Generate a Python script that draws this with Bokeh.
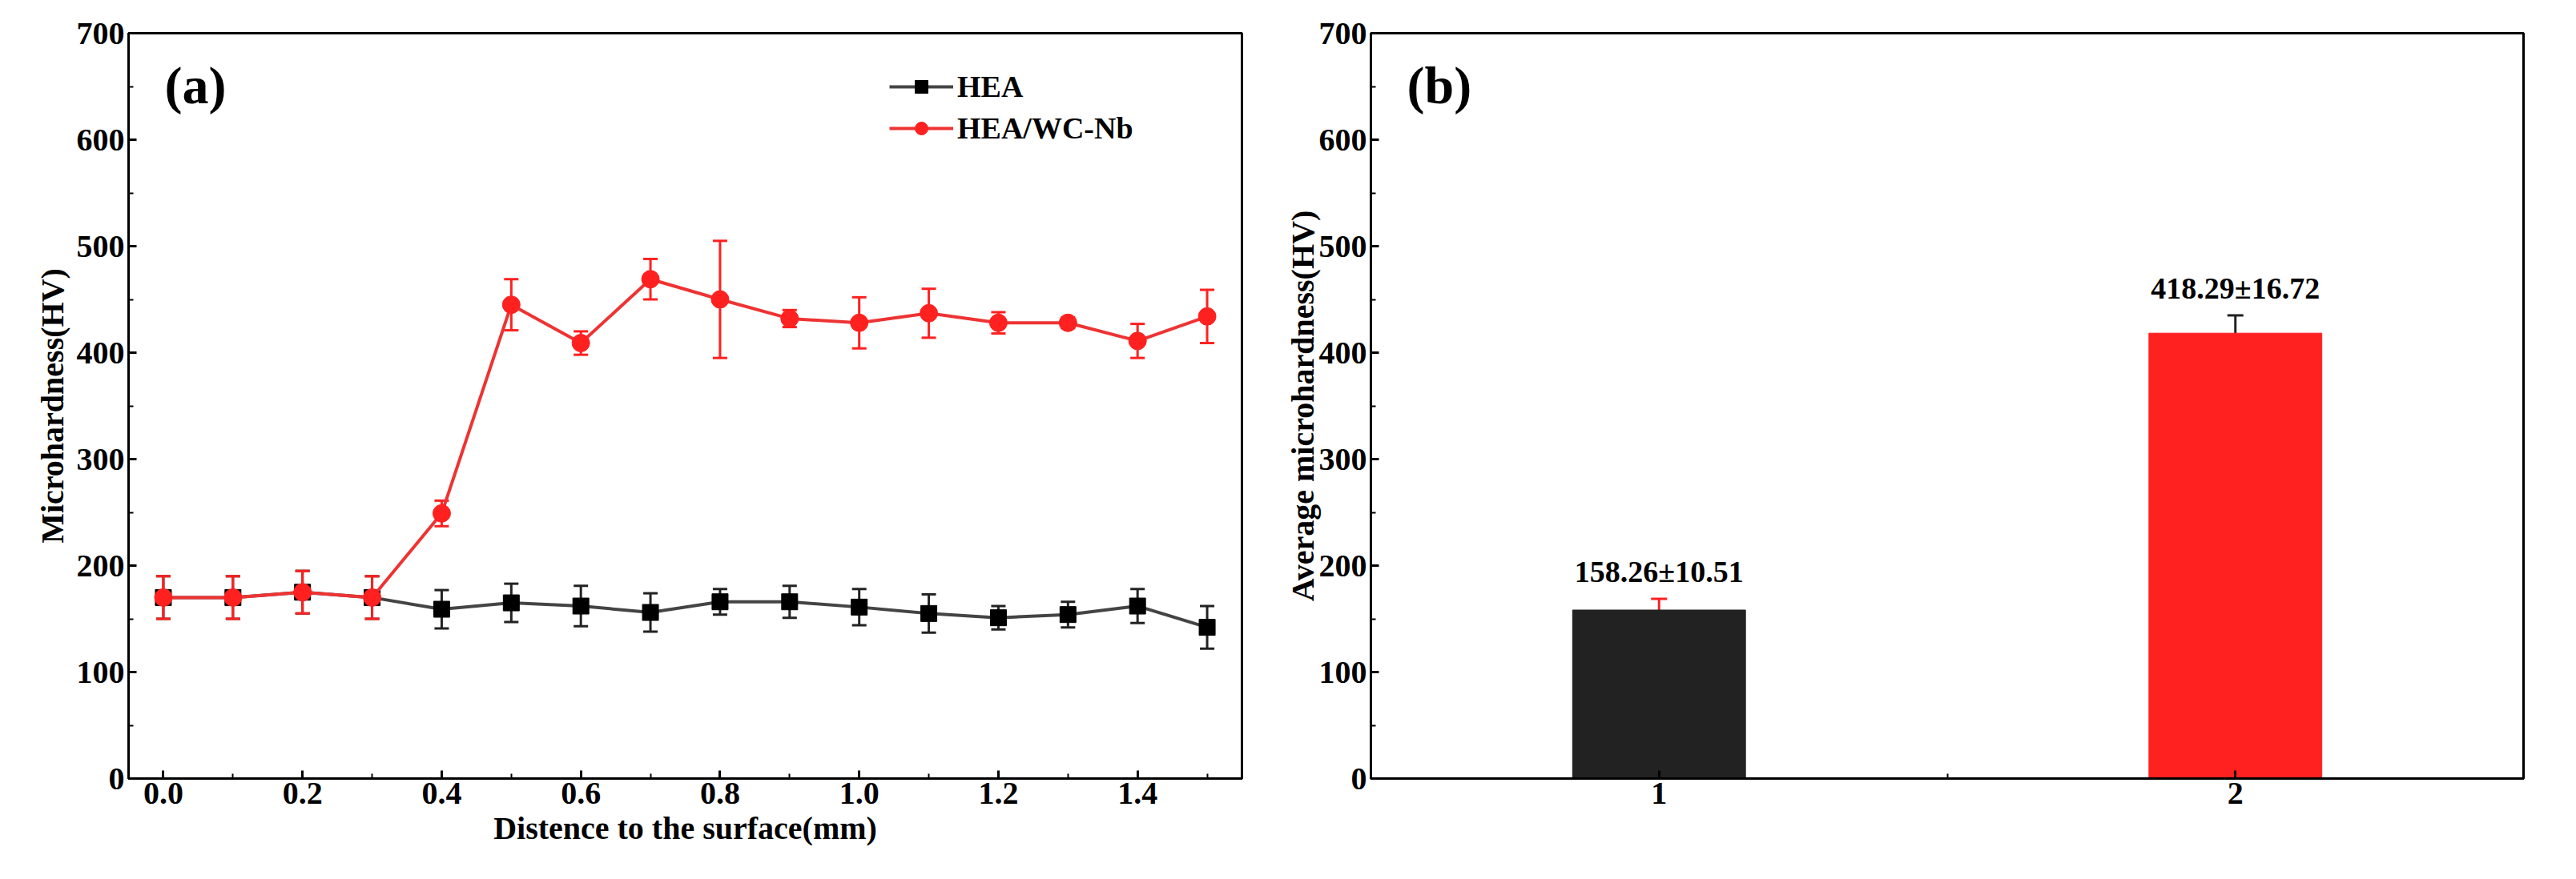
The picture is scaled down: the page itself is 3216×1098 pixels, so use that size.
from bokeh.plotting import figure
from bokeh.layouts import row
from bokeh.models import ColumnDataSource, Whisker, TeeHead, Legend, LegendItem, Label, FixedTicker, NumeralTickFormatter
from bokeh.embed import file_html
from bokeh.resources import INLINE

x = [0.0,0.1,0.2,0.3,0.4,0.5,0.6,0.7,0.8,0.9,1.0,1.1,1.2,1.3,1.4,1.5]
hea = [170,170,175,170,159,165,162,156,166,166,161,155,151,154,162,142]
hea_err = [20,20,20,20,18,18,19,18,12,15,17,18,11,12,16,20]
wc = [170,170,175,170,249,445,409,469,450,432,428,437,428,428,411,434]
wc_err = [20,20,20,20,12,24,11,19,55,8,24,23,10,5,16,25]

bar_x = [1, 2]
bar_v = [158.26, 418.29]
bar_e = [10.51, 16.72]
bar_labels = ["158.26±10.51", "418.29±16.72"]

FONT = "Liberation Serif"
RED = "#ff2020"
BLK = "#222222"

def style(p):
    p.outline_line_color = "black"
    p.outline_line_width = 3
    p.grid.visible = False
    for ax in (p.xaxis[0], p.yaxis[0]):
        ax.axis_line_width = 3
        ax.major_tick_line_width = 3
        ax.minor_tick_line_width = 2
        ax.major_tick_in = 10
        ax.major_tick_out = 0
        ax.minor_tick_in = 6
        ax.minor_tick_out = 0
        ax.major_label_text_font = FONT
        ax.major_label_text_font_style = "bold"
        ax.major_label_text_font_size = "40px"
        ax.major_label_text_color = "black"
        ax.axis_label_text_font = FONT
        ax.axis_label_text_font_style = "bold"
        ax.axis_label_text_font_size = "40px"
        ax.axis_label_text_color = "black"
    p.yaxis.ticker = FixedTicker(ticks=[0,100,200,300,400,500,600,700], minor_ticks=[50,150,250,350,450,550,650])

def err(p, xs, ys, es, color, size=18):
    lo = [y - e for y, e in zip(ys, es)]
    hi = [y + e for y, e in zip(ys, es)]
    src = ColumnDataSource(dict(x=xs, lo=lo, hi=hi))
    w = Whisker(source=src, base="x", lower="lo", upper="hi", line_color=color, line_width=3,
                upper_head=TeeHead(size=size, line_color=color, line_width=3),
                lower_head=TeeHead(size=size, line_color=color, line_width=3))
    p.add_layout(w)

p1 = figure(width=1600, height=1082, x_range=(-0.05, 1.55), y_range=(0, 700),
            output_backend="svg", toolbar_location=None,
            min_border_left=160, min_border_right=50, min_border_top=41, min_border_bottom=104)
style(p1)
p1.xaxis.ticker = FixedTicker(ticks=[0,0.2,0.4,0.6,0.8,1.0,1.2,1.4], minor_ticks=[0.1,0.3,0.5,0.7,0.9,1.1,1.3,1.5])
p1.xaxis.formatter = NumeralTickFormatter(format="0.0")
p1.xaxis.axis_label = "Distence to the surface(mm)"
p1.yaxis.axis_label = "Microhardness(HV)"

l1 = p1.line(x, hea, line_color="#444444", line_width=4)
err(p1, x, hea, hea_err, BLK)
s1 = p1.scatter(x, hea, marker="square", size=20, color="black")
l2 = p1.line(x, wc, line_color="#ee3333", line_width=4)
err(p1, x, wc, wc_err, RED)
s2 = p1.scatter(x, wc, marker="circle", size=22, color=RED)

leg = Legend(items=[LegendItem(label="HEA", renderers=[l1, s1]),
                    LegendItem(label="HEA/WC-Nb", renderers=[l2, s2])],
             location=(950, 790), border_line_color=None, background_fill_alpha=0,
             label_text_font=FONT, label_text_font_style="bold", label_text_font_size="38px",
             label_text_color="black", glyph_width=80, glyph_height=40, spacing=8)
p1.add_layout(leg)
p1.add_layout(Label(x=45, y=830, x_units="screen", y_units="screen", text="(a)", text_color="black",
                    text_font=FONT, text_font_style="bold", text_font_size="66px"))

p2 = figure(width=1580, height=1082, x_range=(0.5, 2.5), y_range=(0, 700),
            output_backend="svg", toolbar_location=None,
            min_border_left=33, min_border_right=30, min_border_top=41, min_border_bottom=110)
style(p2)
p2.xaxis.ticker = FixedTicker(ticks=[1, 2], minor_ticks=[1.5])
p2.yaxis.axis_label = "Average microhardness(HV)"
p2.yaxis.axis_label_standoff = -5
p2.vbar(x=bar_x, top=bar_v, width=0.3, fill_color=[BLK, RED], line_color=[BLK, RED])
lo = [v - e for v, e in zip(bar_v, bar_e)]
hi = [v + e for v, e in zip(bar_v, bar_e)]
for xi, l, h, c in zip(bar_x, lo, hi, [RED, BLK]):
    src = ColumnDataSource(dict(x=[xi], lo=[l], hi=[h]))
    p2.add_layout(Whisker(source=src, base="x", lower="lo", upper="hi", line_color=c, line_width=3,
                          upper_head=TeeHead(size=20, line_color=c, line_width=3),
                          lower_head=TeeHead(size=20, line_color=c, line_width=3)))
p2.text(x=bar_x, y=[h + 10 for h in hi], text=bar_labels, text_align="center", text_baseline="bottom",
        text_font={"value": FONT}, text_font_style="bold", text_font_size="38px", text_color="black")
p2.add_layout(Label(x=45, y=830, x_units="screen", y_units="screen", text="(b)", text_color="black",
                    text_font=FONT, text_font_style="bold", text_font_size="66px"))

open("out.html", "w").write(file_html(row(p1, p2), INLINE))
